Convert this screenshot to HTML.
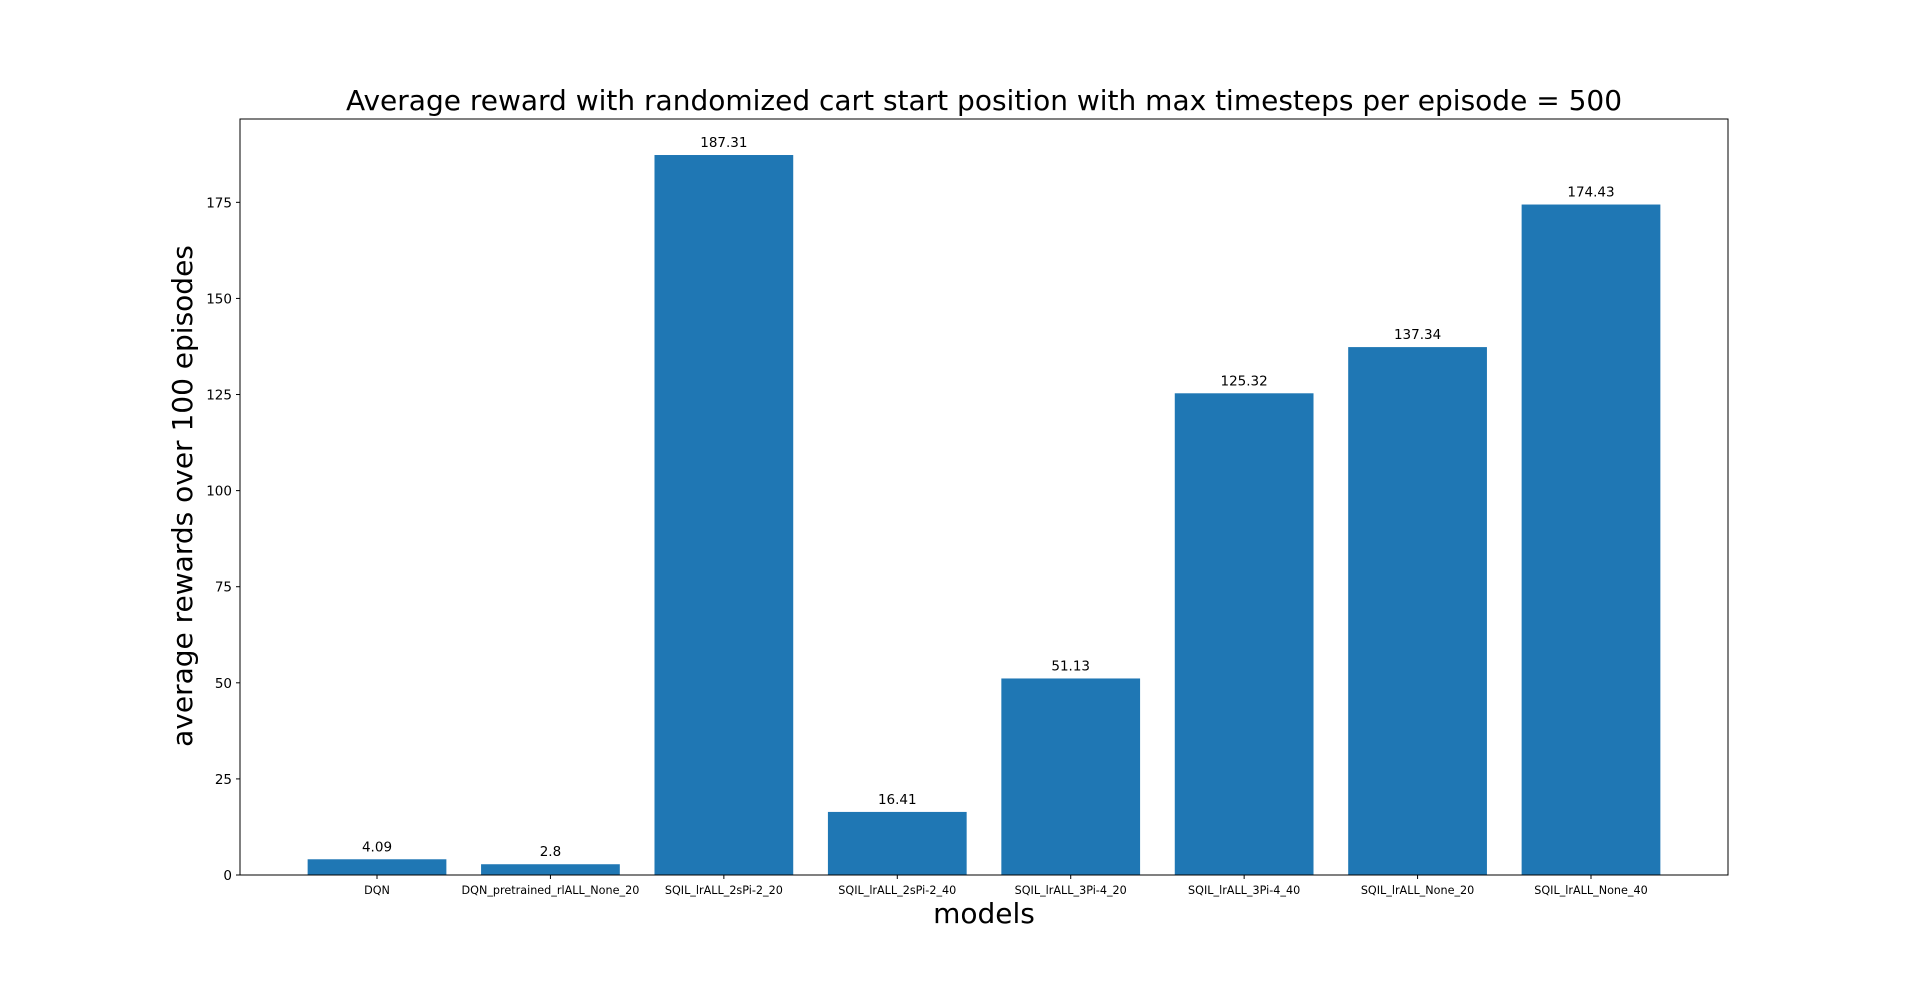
<!DOCTYPE html>
<html><head><meta charset="utf-8"><style>
html,body{margin:0;padding:0;background:#fff;}
svg{display:block;font-family:"DejaVu Sans","Liberation Sans",sans-serif;}
</style></head><body>
<svg id="chart" width="1920" height="983" xmlns="http://www.w3.org/2000/svg">
<text x="984" y="110" font-size="28" text-anchor="middle" fill="#000">Average reward with randomized cart start position with max timesteps per episode = 500</text>
<text x="0" y="0" transform="translate(192,496) rotate(-90)" font-size="28" text-anchor="middle" fill="#000">average rewards over 100 episodes</text>
<text x="984" y="923" font-size="28" text-anchor="middle" fill="#000">models</text>
<g id="bars"></g><g id="axes"></g>
</svg>
<script>
const categories=["DQN","DQN_pretrained_rlALL_None_20","SQIL_lrALL_2sPi-2_20","SQIL_lrALL_2sPi-2_40","SQIL_lrALL_3Pi-4_20","SQIL_lrALL_3Pi-4_40","SQIL_lrALL_None_20","SQIL_lrALL_None_40"];
const values=[4.09,2.8,187.31,16.41,51.13,125.32,137.34,174.43];
const valueLabels=["4.09","2.8","187.31","16.41","51.13","125.32","137.34","174.43"];
const yTicks=[0,25,50,75,100,125,150,175];
const L=240,R=1728,T=119,B=875;
const ymax=196.68;
const xmin=-0.79,xmax=7.79;
function xs(i){return L+(i-xmin)/(xmax-xmin)*(R-L);}
function ys(v){return B-v/ymax*(B-T);}
const NS="http://www.w3.org/2000/svg";
const bars=document.getElementById('bars'),axes=document.getElementById('axes');
function mk(tag,a,p){const e=document.createElementNS(NS,tag);for(const k in a)e.setAttribute(k,a[k]);p.appendChild(e);return e;}
const bw=0.8*(R-L)/(xmax-xmin);
values.forEach((v,i)=>{
  const r=mk('rect',{x:xs(i)-bw/2,y:ys(v),width:bw,height:B-ys(v),fill:'#1f77b4'},bars);
  
  
  const t=mk('text',{x:xs(i),y:ys(v)-8,'font-size':13.5,'text-anchor':'middle',fill:'#000'},bars);
  t.textContent=valueLabels[i];
  
  
  mk('line',{x1:xs(i),x2:xs(i),y1:B,y2:B+4,stroke:'#000','stroke-width':1},axes);
  const c=mk('text',{x:xs(i),y:B+19,'font-size':11.2,'text-anchor':'middle',fill:'#000'},axes);
  c.textContent=categories[i];
  
  
});
yTicks.forEach(v=>{
  mk('line',{x1:L-4,x2:L,y1:ys(v),y2:ys(v),stroke:'#000','stroke-width':1},axes);
  const t=mk('text',{x:L-8,y:ys(v)+5,'font-size':13.5,'text-anchor':'end',fill:'#000'},axes);
  t.textContent=v;
  
  
});
const f=mk('rect',{x:L,y:T,width:R-L,height:B-T,fill:'none',stroke:'#000','stroke-width':1},axes);


</script>
</body></html>
